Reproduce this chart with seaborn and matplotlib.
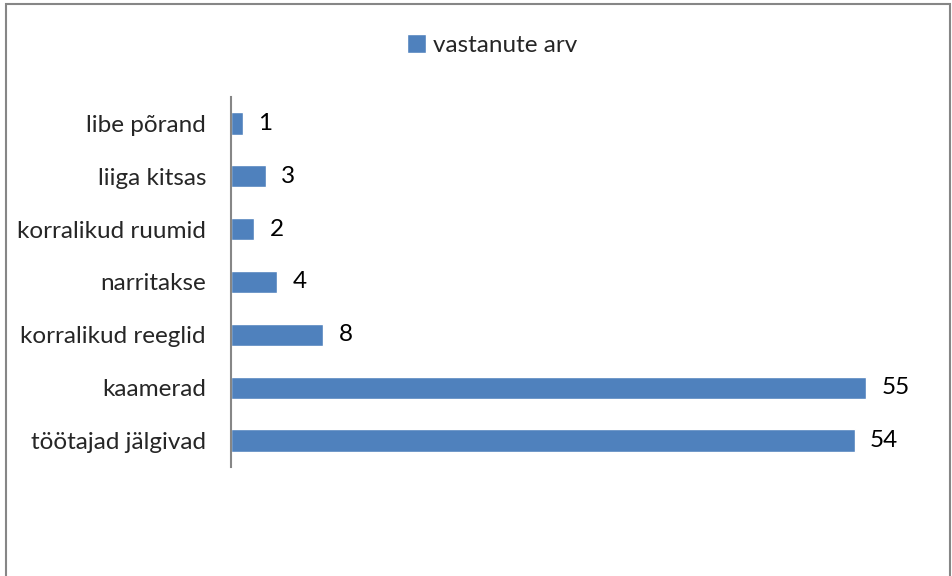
import pandas as pd
import matplotlib.pyplot as plt
import seaborn as sns
from matplotlib.patches import Rectangle

# data
categories = ['libe põrand', 'liiga kitsas', 'korralikud ruumid', 'narritakse',
              'korralikud reeglid', 'kaamerad', 'töötajad jälgivad']
values = [1, 3, 2, 4, 8, 55, 54]
series_name = 'vastanute arv'

df = pd.DataFrame({'kategooria': categories, 'arv': values})

sns.set_style('white')
plt.rcParams['font.family'] = ['Lato', 'DejaVu Sans']
fs = 17.5

fig = plt.figure(figsize=(9.52, 5.76), dpi=100)
ax = fig.add_axes([231/952, 1 - 467/576, 693/952, 370/576])

bar_color = '#4F81BD'
sns.barplot(data=df, x='arv', y='kategooria', orient='h', color=bar_color,
            width=0.42, saturation=1, ax=ax, label=series_name)

ax.bar_label(ax.containers[0], padding=11, fontsize=fs, color='black')

ax.set_xlim(0, 60)
ax.set_xlabel('')
ax.set_ylabel('')
ax.set_xticks([])
ax.tick_params(axis='y', length=0, labelsize=fs, pad=18)
for s in ['top', 'right', 'bottom']:
    ax.spines[s].set_visible(False)
ax.spines['left'].set_color('#868686')
ax.spines['left'].set_linewidth(1.5)

if ax.get_legend() is not None:
    ax.get_legend().remove()
h, l = ax.get_legend_handles_labels()
fig.legend(h, l, loc='center', bbox_to_anchor=(492/952, 1 - 45/576), frameon=False,
           fontsize=fs, handlelength=0.8, handleheight=0.8, handletextpad=0.3,
           borderpad=0)

# chart area border
fig.patches.append(Rectangle((6/952, -0.01), 944/952, 1 - 4/576 + 0.01,
                             transform=fig.transFigure, fill=False,
                             edgecolor='#868686', linewidth=1.5))

fig.savefig('out.png', dpi=100, facecolor='white')
